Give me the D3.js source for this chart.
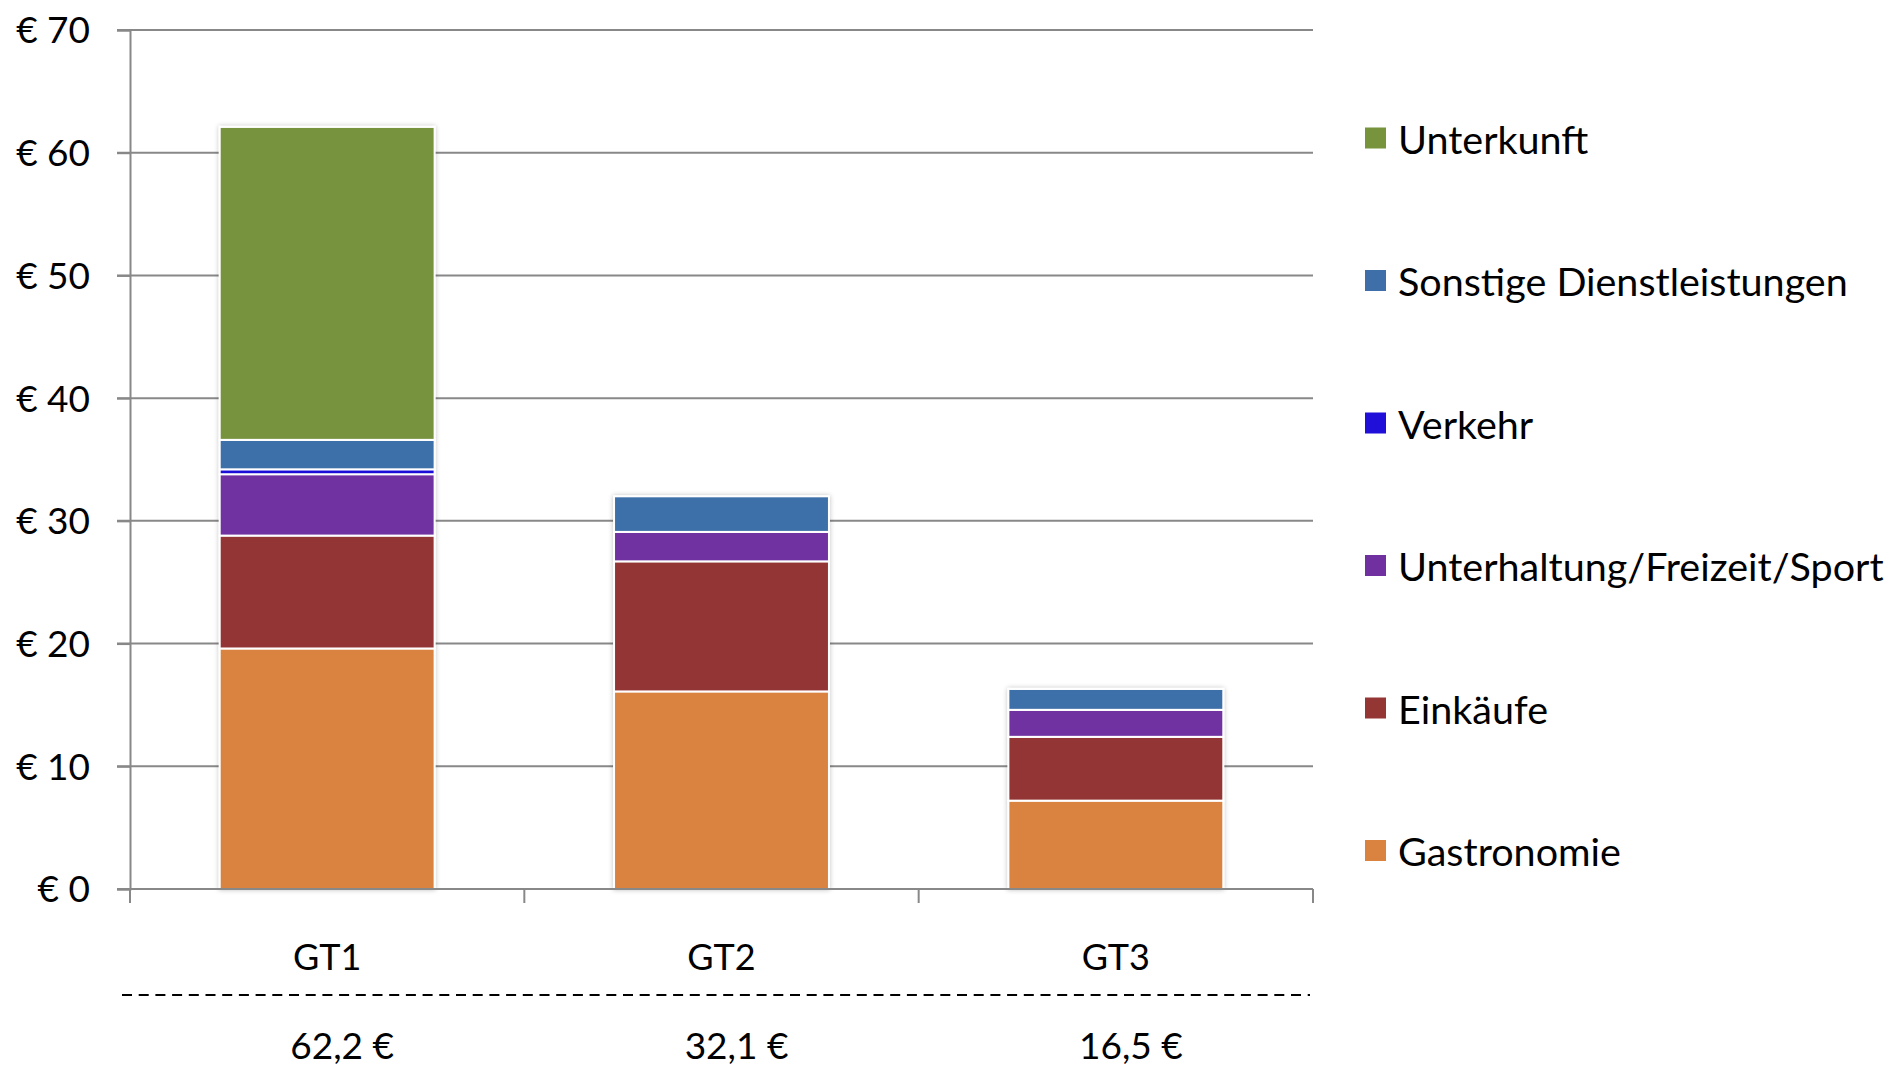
<!DOCTYPE html>
<html>
<head>
<meta charset="utf-8">
<script src="https://cdn.jsdelivr.net/npm/d3@7"></script>
<style>
  html, body { margin: 0; padding: 0; background: #fff; }
  svg { display: block; }
  text { font-family: Lato, "Open Sans", sans-serif; fill: #000; }
</style>
</head>
<body>
<svg id="chart" width="1893" height="1069"></svg>
<script>
// ---- data ----
const categories = ["GT1", "GT2", "GT3"];
const seriesNames = ["Gastronomie", "Einkäufe", "Unterhaltung/Freizeit/Sport", "Verkehr", "Sonstige Dienstleistungen", "Unterkunft"];
const gastronomie = [19.6, 16.1, 7.2];
const einkaeufe = [9.2, 10.6, 5.2];
const unterhaltung = [5.0, 2.4, 2.2];
const verkehr = [0.4, 0.0, 0.0];
const sonstige = [2.4, 2.9, 1.7];
const unterkunft = [25.5, 0.0, 0.0];
const totalLabels = ["62,2 €", "32,1 €", "16,5 €"];
const yTickValues = [0, 10, 20, 30, 40, 50, 60, 70];
const seriesColors = ["#DA8240", "#943634", "#7030A0", "#1F0FD8", "#3E6FA8", "#77933C"];

const seriesValues = [gastronomie, einkaeufe, unterhaltung, verkehr, sonstige, unterkunft];
const rows = categories.map((c, i) => {
  const r = { cat: c };
  seriesNames.forEach((s, k) => r[s] = seriesValues[k][i]);
  return r;
});

// ---- layout ----
const svg = d3.select("#chart");
const plot = { left: 130, right: 1313, top: 30, bottom: 889 };

const x = d3.scaleBand().domain(categories).range([plot.left, plot.right]).paddingInner(0.455).paddingOuter(0.2275);
const y = d3.scaleLinear().domain([0, 70]).range([plot.bottom, plot.top]);
const color = d3.scaleOrdinal().domain(seriesNames).range(seriesColors);

const defs = svg.append("defs");
const f = defs.append("filter").attr("id", "shadow").attr("x", "-10%").attr("y", "-10%").attr("width", "120%").attr("height", "120%");
f.append("feGaussianBlur").attr("in", "SourceAlpha").attr("stdDeviation", 2.5).attr("result", "blur");
f.append("feComponentTransfer").attr("in", "blur").attr("result", "soft")
  .append("feFuncA").attr("type", "linear").attr("slope", 0.25);
const m = f.append("feMerge");
m.append("feMergeNode").attr("in", "soft");
m.append("feMergeNode").attr("in", "SourceGraphic");

// gridlines
const grid = svg.append("g");
grid.selectAll("line").data(yTickValues).join("line")
  .attr("x1", plot.left - 13).attr("x2", plot.right)
  .attr("y1", d => y(d)).attr("y2", d => y(d))
  .attr("stroke", "#888").attr("stroke-width", 2);

// y axis
const yAxis = svg.append("g").attr("transform", `translate(${plot.left},0)`)
  .call(d3.axisLeft(y).tickValues(yTickValues).tickSize(13).tickPadding(27).tickFormat(d => "€ " + d));
yAxis.select(".domain").attr("stroke", "#888").attr("stroke-width", 2);
yAxis.selectAll(".tick line").attr("stroke", "#888").attr("stroke-width", 2);
yAxis.selectAll("text").style("font-size", "37px").style("font-family", "Lato, 'Open Sans', sans-serif").attr("fill", "#000").attr("dy", "0.35em");

// bars
const stack = d3.stack().keys(seriesNames);
const stacked = stack(rows);
const bars = svg.append("g").attr("filter", "url(#shadow)");
bars.selectAll("g").data(stacked).join("g")
  .attr("fill", d => color(d.key))
  .selectAll("rect").data(d => d.filter(p => p[1] - p[0] > 0)).join("rect")
  .attr("x", d => x(d.data.cat))
  .attr("width", x.bandwidth())
  .attr("y", d => y(d[1]))
  .attr("height", d => y(d[0]) - y(d[1]))
  .attr("stroke", "#fff").attr("stroke-width", 2);

// x axis
const xAxisG = svg.append("g").attr("transform", `translate(0,${plot.bottom})`);
xAxisG.append("line").attr("x1", plot.left).attr("x2", plot.right).attr("stroke", "#888").attr("stroke-width", 2);
const bounds = d3.range(categories.length + 1).map(i => plot.left + i * (plot.right - plot.left) / categories.length);
xAxisG.selectAll("line.tk").data(bounds).join("line").attr("class", "tk")
  .attr("x1", d => d).attr("x2", d => d).attr("y1", 0).attr("y2", 14)
  .attr("stroke", "#888").attr("stroke-width", 2);
xAxisG.selectAll("text.cat").data(categories).join("text").attr("class", "cat")
  .attr("x", d => x(d) + x.bandwidth() / 2).attr("y", 67)
  .attr("text-anchor", "middle").attr("dominant-baseline", "central")
  .style("font-size", "36px").text(d => d);

// dashed separator
svg.append("line").attr("x1", 122).attr("x2", 1310).attr("y1", 995).attr("y2", 995)
  .attr("stroke", "#000").attr("stroke-width", 2).attr("stroke-dasharray", "10,6.7");

// totals
svg.selectAll("text.tot").data(categories).join("text").attr("class", "tot")
  .attr("x", d => x(d) + x.bandwidth() / 2 + 15).attr("y", 1059)
  .attr("text-anchor", "middle")
  .style("font-size", "37px").text((d, i) => totalLabels[i]);

// legend
const legendOrder = seriesNames.slice().reverse();
const leg = svg.append("g");
const li = leg.selectAll("g").data(legendOrder).join("g")
  .attr("transform", (d, i) => `translate(1365,${138 + i * 142.5})`);
li.append("rect").attr("x", 0).attr("y", -10.5).attr("width", 21).attr("height", 21).attr("fill", d => color(d));
li.append("text").attr("x", 33).attr("y", 0).attr("dominant-baseline", "central")
  .style("font-size", "39.5px").text(d => d);
</script>
</body>
</html>
